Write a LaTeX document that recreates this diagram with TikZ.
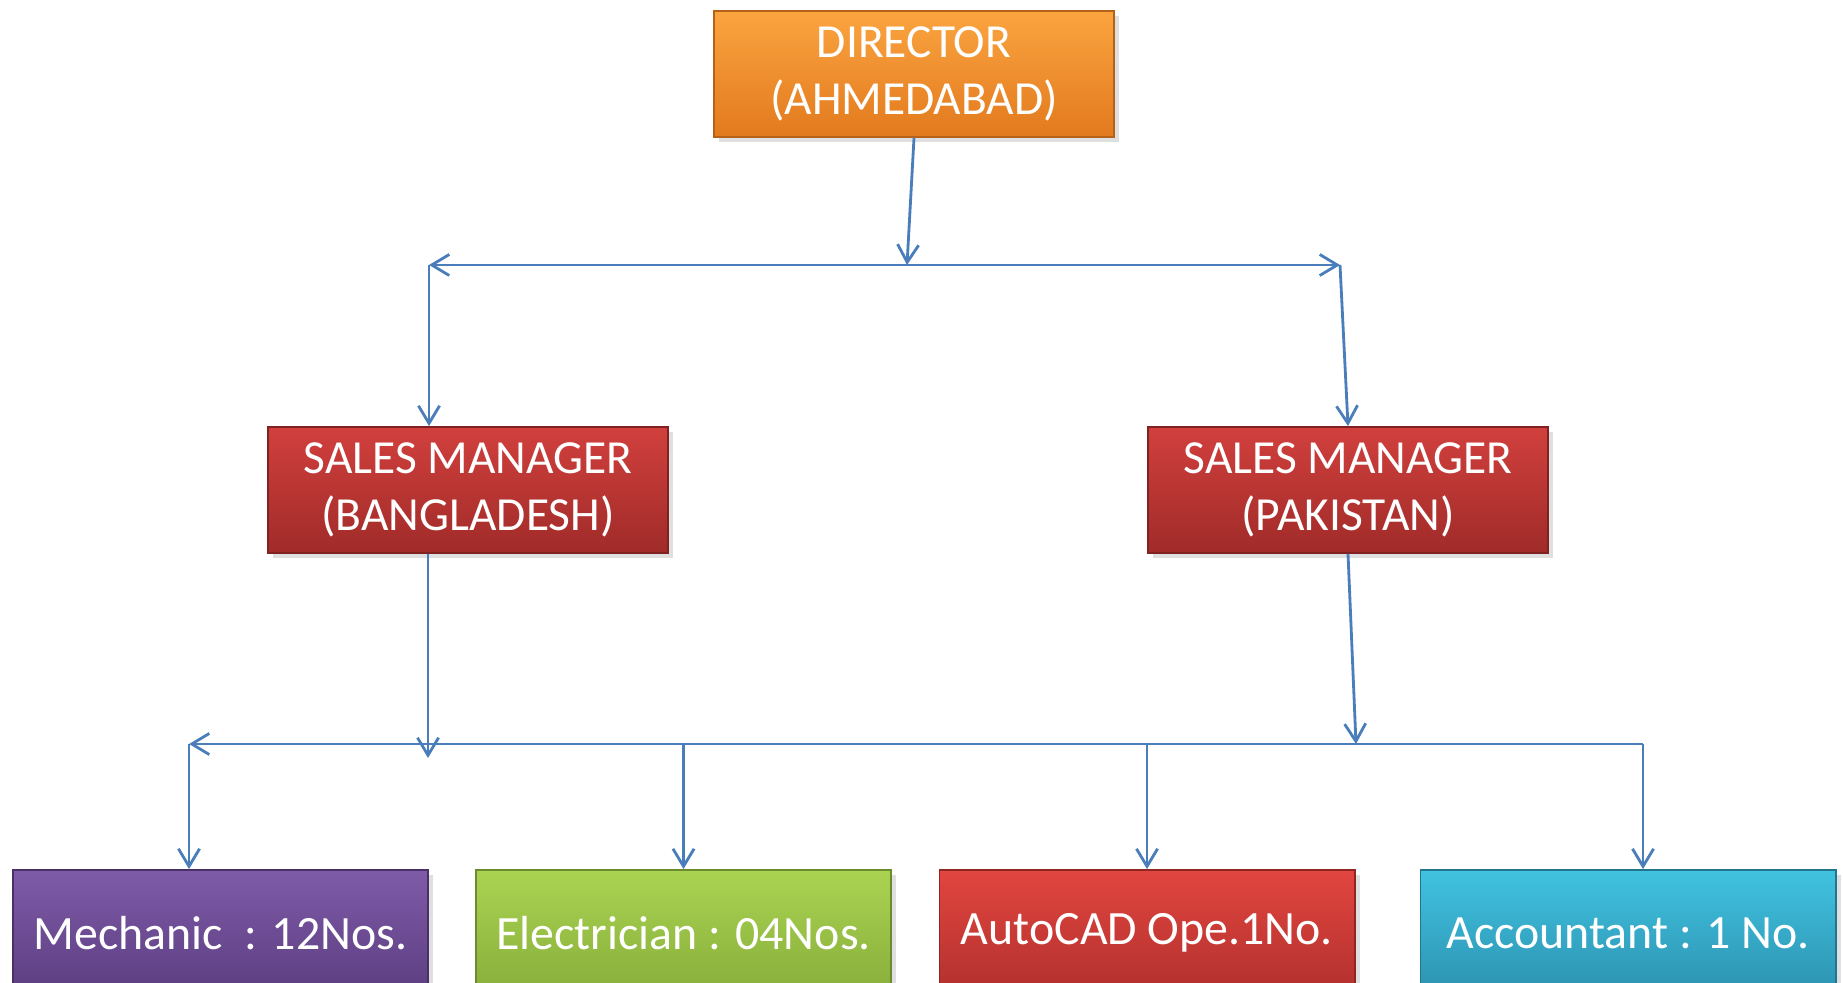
\documentclass[tikz,border=0pt]{standalone}
\usepackage{fontspec}
\setmainfont{Carlito}
\usetikzlibrary{arrows.meta, shadows}

\definecolor{linkblue}{HTML}{4A7EBB}
\definecolor{dirtop}{HTML}{FBA440}
\definecolor{dirbot}{HTML}{E27A1E}
\definecolor{smtop}{HTML}{D1403D}
\definecolor{smbot}{HTML}{A02B29}
\definecolor{mechtop}{HTML}{7F5BA8}
\definecolor{mechbot}{HTML}{5B3D80}
\definecolor{eltop}{HTML}{ABD352}
\definecolor{elbot}{HTML}{86AE3A}
\definecolor{cadtop}{HTML}{E2453F}
\definecolor{cadbot}{HTML}{B1302D}
\definecolor{acctop}{HTML}{40C3E0}
\definecolor{accbot}{HTML}{2C91B0}

\begin{document}
\begin{tikzpicture}[x=0.01cm, y=-0.01cm,
    box/.style={rectangle, draw=#1bot!80!black, line width=0.5pt,
        top color=#1top, bottom color=#1bot, text=white, align=center,
        drop shadow={opacity=0.25, shadow xshift=1.5pt, shadow yshift=-1.5pt}},
    upper/.style={minimum width=4cm, minimum height=1.26cm,
        font=\fontsize{13.5}{16}\selectfont},
    lower/.style={minimum width=4.15cm, minimum height=1.26cm,
        font=\fontsize{13.6}{16.5}\selectfont},
    link/.style={draw=linkblue, line width=0.8pt,
        -{Straight Barb[length=5pt, width=6pt]}}]

    \useasboundingbox (0, 0) rectangle (1843, 983);

        % boxes
        \node[box=dir, upper] (dir) at (914, 74) {DIRECTOR\\(AHMEDABAD)};

        \node[box=sm, upper] (smb) at (468, 490) {SALES MANAGER\\(BANGLADESH)};
        \node[box=sm, upper] (smp) at (1348, 490) {SALES MANAGER\\(PAKISTAN)};

        \node[box=mech, lower] (mech) at (220.5, 933) {Mechanic\ \ : 12Nos.};
        \node[box=el, lower] (elec) at (683.5, 933) {Electrician : 04Nos.};
        \node[box=cad, lower] (cad) at (1147, 933) {AutoCAD Ope.1No.};
        \node[box=acc, lower] (acc) at (1628, 933) {Accountant : 1 No.};

        % junctions
        \coordinate (top-m) at (907, 265);
        \coordinate (top-l) at (429, 265);
        \coordinate (top-r) at (1340, 265);

        \coordinate (bot-b) at (428, 758);
        \coordinate (bot-p) at (1356, 744);
        \coordinate (bot-l) at (189, 744);
        \coordinate (bot-r) at (1643, 744);

        % director to sales managers
        \draw[link] (dir.south) -- (top-m);
        \draw[link] (top-m) -- (top-l);
        \draw[link] (top-m) -- (top-r);
        \draw[link] (top-l) -- (top-l |- smb.north);
        \draw[link] (top-r) -- (smp.north);

        % sales managers to staff
        \draw[link] (smb.south -| bot-b) -- (bot-b);
        \draw[link] (smp.south) -- (bot-p);
        \draw[link] (bot-r) -- (bot-l);

        \draw[link] (bot-l) -- (bot-l |- mech.north);
        \draw[link] (elec.north |- bot-l) -- (elec.north);
        \draw[link] (cad.north |- bot-l) -- (cad.north);
        \draw[link] (bot-r) -- (bot-r |- acc.north);

    \end{tikzpicture}
\end{document}
